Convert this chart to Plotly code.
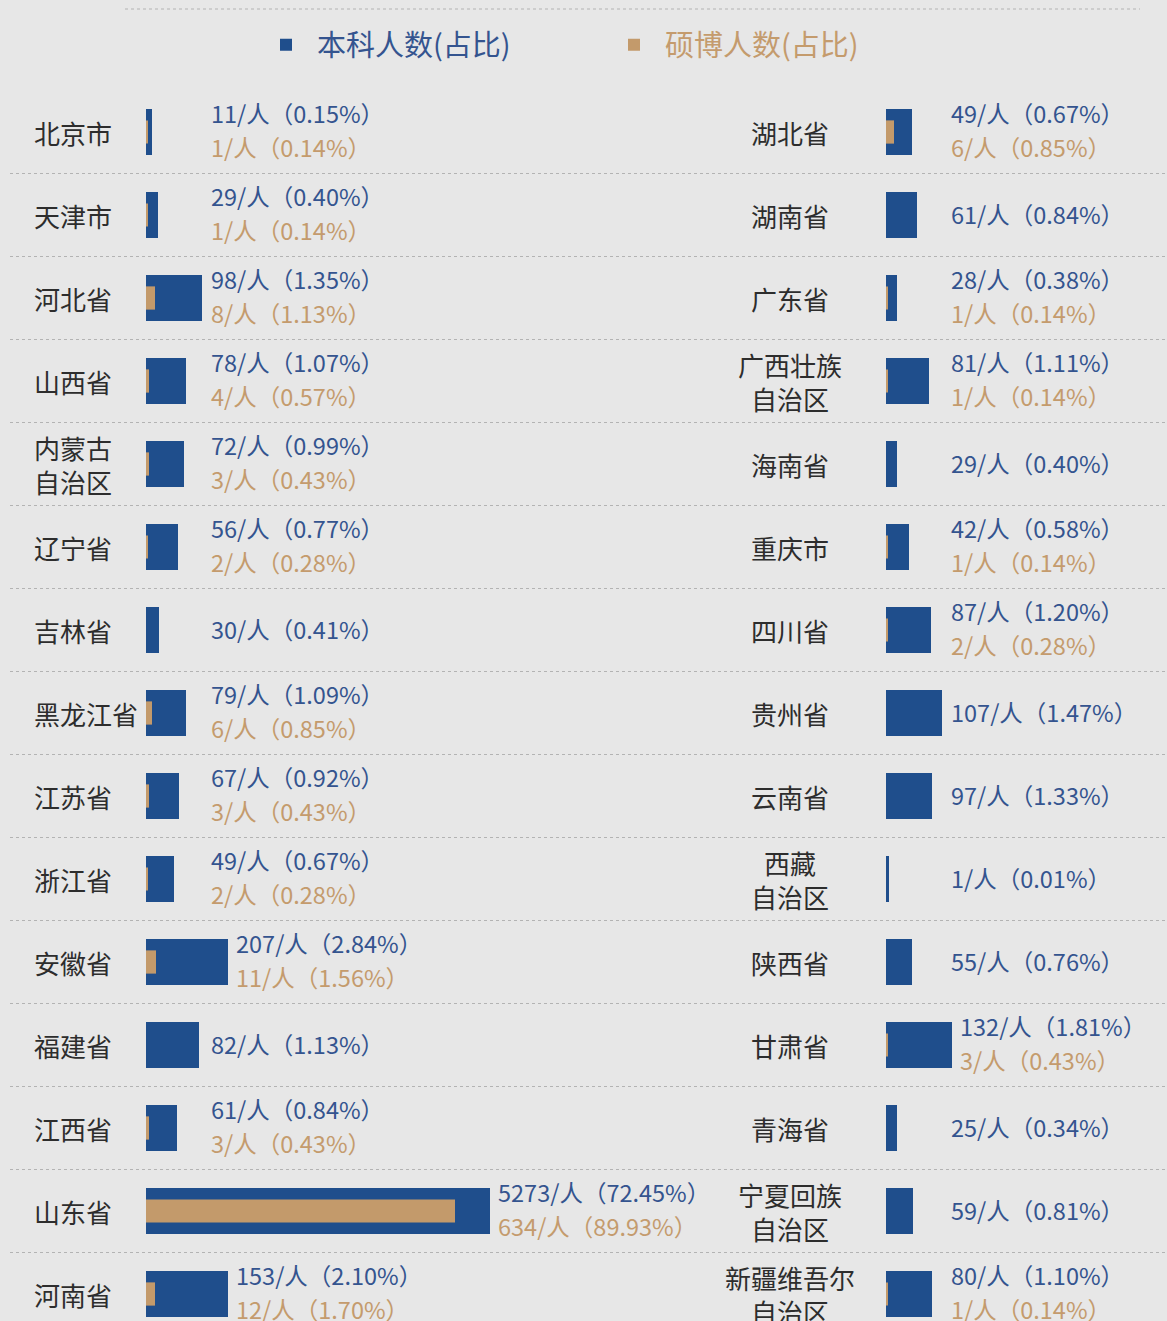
import plotly.graph_objects as go

W, H = 1167, 1321

# ---------------- data ----------------
left_names = ["北京市", "天津市", "河北省", "山西省", "内蒙古<br>自治区", "辽宁省", "吉林省", "黑龙江省",
              "江苏省", "浙江省", "安徽省", "福建省", "江西省", "山东省", "河南省"]
left_ug_n = [11, 29, 98, 78, 72, 56, 30, 79, 67, 49, 207, 82, 61, 5273, 153]
left_ug_pct = [0.15, 0.40, 1.35, 1.07, 0.99, 0.77, 0.41, 1.09, 0.92, 0.67, 2.84, 1.13, 0.84, 72.45, 2.10]
left_pg_n = [1, 1, 8, 4, 3, 2, None, 6, 3, 2, 11, None, 3, 634, 12]
left_pg_pct = [0.14, 0.14, 1.13, 0.57, 0.43, 0.28, None, 0.85, 0.43, 0.28, 1.56, None, 0.43, 89.93, 1.70]
# bar lengths as drawn in the infographic (display units)
left_ug_bar = [6, 12, 56, 40, 38, 32, 13, 40, 33, 28, 82, 53, 31, 344, 82]
left_pg_bar = [2, 2, 9, 3, 3, 2, None, 6, 3, 2, 10, None, 3, 309, 9]

right_names = ["湖北省", "湖南省", "广东省", "广西壮族<br>自治区", "海南省", "重庆市", "四川省", "贵州省",
               "云南省", "西藏<br>自治区", "陕西省", "甘肃省", "青海省", "宁夏回族<br>自治区", "新疆维吾尔<br>自治区"]
right_ug_n = [49, 61, 28, 81, 29, 42, 87, 107, 97, 1, 55, 132, 25, 59, 80]
right_ug_pct = [0.67, 0.84, 0.38, 1.11, 0.40, 0.58, 1.20, 1.47, 1.33, 0.01, 0.76, 1.81, 0.34, 0.81, 1.10]
right_pg_n = [6, None, 1, 1, None, 1, 2, None, None, None, None, 3, None, None, 1]
right_pg_pct = [0.85, None, 0.14, 0.14, None, 0.14, 0.28, None, None, None, None, 0.43, None, None, 0.14]
right_ug_bar = [26, 31, 11, 43, 11, 23, 45, 56, 46, 3, 26, 66, 11, 27, 46]
right_pg_bar = [8, None, 2, 2, None, 2, 2, None, None, None, None, 2, None, None, 2]

legend_names = ["本科人数(占比)", "硕博人数(占比)"]

# ---------------- styles ----------------
BG = "#e7e7e7"
BLUE = "#1f4e8c"
TAN = "#c39a6b"
BLUE_TXT = "#34548f"
TAN_TXT = "#c49b6d"
LABEL_TXT = "#2d2d2d"
SEP = "#b3b3b3"
FONT = "Noto Sans CJK SC"

ROW_PX = 83
TOP_PX = 132
n_rows = len(left_names)
rows = list(range(n_rows))

L_X0, L_X1 = 146, 720
R_X0, R_X1 = 886, W
TEXT_MIN = 63
TEXT_GAP = 6


def fmt(n, p):
    return f"{n}/人（{p:.2f}%）"


fig = go.Figure()

fig.add_trace(go.Bar(orientation="h", y=rows, x=left_ug_bar, width=0.555, marker=dict(color=BLUE, line_width=0),
                     name=f"<span style='color:{BLUE_TXT}'>{legend_names[0]}</span>", legend="legend",
                     xaxis="x", yaxis="y", hoverinfo="skip"))
fig.add_trace(go.Bar(orientation="h", y=rows, x=left_pg_bar, width=0.28, marker=dict(color=TAN, line_width=0),
                     name=f"<span style='color:{TAN_TXT}'>{legend_names[1]}</span>", legend="legend2",
                     xaxis="x", yaxis="y", hoverinfo="skip"))
fig.add_trace(go.Bar(orientation="h", y=rows, x=right_ug_bar, width=0.555, marker=dict(color=BLUE, line_width=0),
                     showlegend=False, xaxis="x2", yaxis="y", hoverinfo="skip"))
fig.add_trace(go.Bar(orientation="h", y=rows, x=right_pg_bar, width=0.28, marker=dict(color=TAN, line_width=0),
                     showlegend=False, xaxis="x2", yaxis="y", hoverinfo="skip"))

annotations = []


def add_side(names, ug_n, ug_pct, pg_n, pg_pct, ug_bar, xref, label_x, label_anchor):
    for i in rows:
        annotations.append(dict(x=label_x, xref="paper", y=i, yref="y", text=names[i], showarrow=False,
                                xanchor=label_anchor, yanchor="middle",
                                align="center" if label_anchor == "center" else "left",
                                font=dict(family=FONT, size=26, color=LABEL_TXT)))
        tx = max(ug_bar[i] + TEXT_GAP, TEXT_MIN)
        has_pg = pg_n[i] is not None
        annotations.append(dict(x=tx, xref=xref, y=i, yref="y", text=fmt(ug_n[i], ug_pct[i]), showarrow=False,
                                xanchor="left", yanchor="middle", yshift=19.5 if has_pg else 1,
                                font=dict(family=FONT, size=23.5, color=BLUE_TXT)))
        if has_pg:
            annotations.append(dict(x=tx, xref=xref, y=i, yref="y", text=fmt(pg_n[i], pg_pct[i]), showarrow=False,
                                    xanchor="left", yanchor="middle", yshift=-14.5,
                                    font=dict(family=FONT, size=23.5, color=TAN_TXT)))


add_side(left_names, left_ug_n, left_ug_pct, left_pg_n, left_pg_pct, left_ug_bar, "x", 32 / W, "left")
add_side(right_names, right_ug_n, right_ug_pct, right_pg_n, right_pg_pct, right_ug_bar, "x2", 790 / W, "center")

shapes = []
for i in rows[:-1]:
    shapes.append(dict(type="line", xref="paper", yref="y", x0=10 / W, x1=1, y0=i + 0.5, y1=i + 0.5,
                       line=dict(color=SEP, width=1, dash="dot"), layer="below"))
shapes.append(dict(type="line", xref="paper", yref="paper", x0=125 / W, x1=1140 / W, y0=1 - 9 / H, y1=1 - 9 / H,
                   line=dict(color=SEP, width=1, dash="dot"), layer="below"))

y_top = -TOP_PX / ROW_PX
y_bot = (H - TOP_PX) / ROW_PX

axis_common = dict(showgrid=False, zeroline=False, showticklabels=False, showline=False, ticks="", fixedrange=True)

legend_common = dict(y=1 - 45 / H, xanchor="left", yanchor="middle", orientation="h", itemwidth=52,
                     font=dict(family=FONT, size=29), bgcolor="rgba(0,0,0,0)", borderwidth=0)

fig.update_layout(
    width=W, height=H,
    margin=dict(l=0, r=0, t=0, b=0),
    paper_bgcolor=BG, plot_bgcolor=BG,
    barmode="overlay",
    font=dict(family=FONT),
    xaxis=dict(domain=[L_X0 / W, L_X1 / W], range=[0, L_X1 - L_X0], anchor="y", **axis_common),
    xaxis2=dict(domain=[R_X0 / W, R_X1 / W], range=[0, R_X1 - R_X0], anchor="y", **axis_common),
    yaxis=dict(domain=[0, 1], range=[y_bot, y_top], **axis_common),
    legend=dict(x=(286 - 31) / W, **legend_common),
    legend2=dict(x=(634 - 31) / W, **legend_common),
    annotations=annotations,
    shapes=shapes,
)

fig.write_html("out.html", config={"displayModeBar": False},
               post_script="document.body.style.margin='0';document.body.style.overflow='hidden';")
